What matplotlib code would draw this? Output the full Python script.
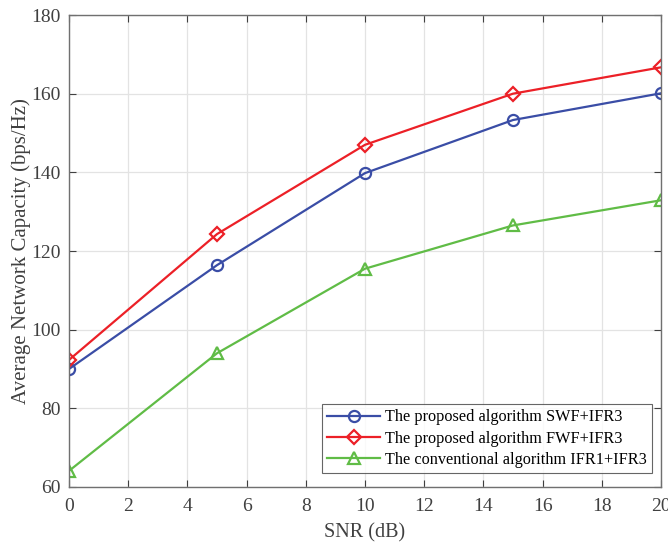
import matplotlib
matplotlib.use('Agg')
import matplotlib.pyplot as plt

snr = [0, 5, 10, 15, 20]
swf_ifr3 = [90.0, 116.4, 139.8, 153.3, 160.1]
fwf_ifr3 = [92.3, 124.3, 147.0, 160.0, 166.7]
ifr1_ifr3 = [64.1, 94.0, 115.5, 126.5, 132.9]

labels = ['The proposed algorithm SWF+IFR3',
          'The proposed algorithm FWF+IFR3',
          'The conventional algorithm IFR1+IFR3']

plt.rcParams['font.family'] = ['Liberation Serif', 'DejaVu Serif']

fig = plt.figure(figsize=(6.68, 5.42), dpi=100)
ax = fig.add_axes([0.1033, 0.1015, 0.8862, 0.8708])

ax.plot(snr, swf_ifr3, '-o', color='#3A4DA6', lw=1.6, ms=8, mfc='none', mew=1.6, label=labels[0])
ax.plot(snr, fwf_ifr3, '-D', color='#EC2027', lw=1.6, ms=7, mfc='none', mew=1.6, label=labels[1])
ax.plot(snr, ifr1_ifr3, '-^', color='#60BC46', lw=1.6, ms=9, mfc='none', mew=1.6, label=labels[2])

ax.set_xlim(0, 20)
ax.set_ylim(60, 180)
ax.set_xticks(range(0, 21, 2))
ax.set_yticks(range(60, 181, 20))
ax.grid(True, color='#E3E3E3', lw=0.9)
ax.set_axisbelow(True)
ax.tick_params(direction='in', top=True, right=True, length=5, colors='#404040',
               labelsize=14, labelcolor='#404040')
ax.tick_params(axis='x', pad=8)
ax.tick_params(axis='y', pad=6)
for s in ax.spines.values():
    s.set_color('#707070')
    s.set_linewidth(1.0)

ax.set_xlabel('SNR (dB)', fontsize=14.5, color='#404040', labelpad=6)
ax.set_ylabel('Average Network Capacity (bps/Hz)', fontsize=15, color='#404040', labelpad=0)

leg = ax.legend(loc='lower right', bbox_to_anchor=(0.985, 0.03), fontsize=11.7,
                frameon=True, fancybox=False, edgecolor='#404040', handlelength=3.3,
                borderpad=0.3, labelspacing=0.33, handletextpad=0.3, borderaxespad=0.0)
leg.get_frame().set_linewidth(0.8)

fig.savefig('out.png', dpi=100)
